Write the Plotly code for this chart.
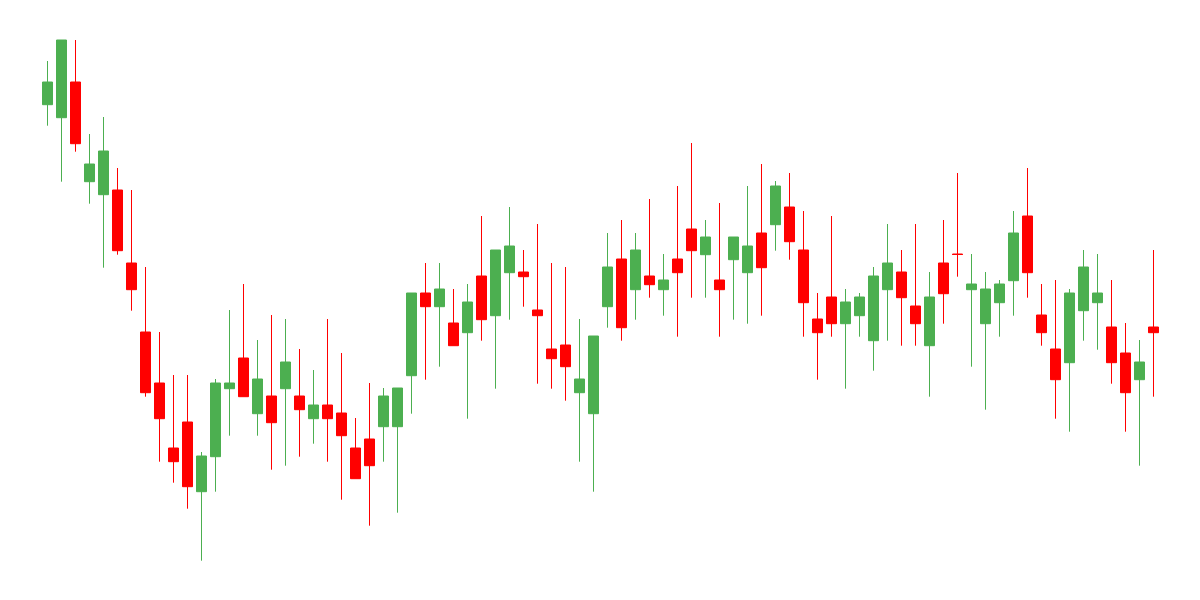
import plotly.graph_objects as go

open_ = [139.53, 138.23, 141.80, 131.83, 130.53, 131.00, 123.70, 116.80, 111.70, 105.20,
         107.80, 100.83, 104.33, 111.13, 114.20, 108.63, 110.40, 111.13, 110.40, 108.13,
         109.50, 108.70, 105.20, 106.10, 107.33, 107.33, 112.43, 120.70, 119.33, 117.70,
         116.73, 122.40, 118.43, 122.73, 122.80, 119.00, 115.10, 115.50, 110.73, 108.63,
         119.33, 124.10, 121.03, 122.40, 121.03, 124.10, 127.10, 124.53, 122.00, 124.03,
         122.73, 126.70, 127.53, 129.30, 125.00, 118.10, 120.30, 117.63, 118.43, 115.93,
         121.03, 122.80, 119.40, 115.43, 123.70, 124.60, 121.03, 117.63, 119.73, 121.93,
         128.40, 118.50, 115.10, 113.73, 118.93, 119.73, 117.30, 114.70, 112.03, 117.30]
high = [143.90, 146.00, 146.00, 136.60, 138.30, 133.20, 131.00, 123.30, 116.80, 112.50,
        112.50, 104.80, 112.10, 119.00, 121.60, 116.00, 118.50, 118.10, 115.10, 113.00,
        118.10, 114.70, 108.20, 111.70, 111.20, 111.20, 120.70, 123.70, 123.70, 121.10,
        121.60, 128.40, 125.00, 129.30, 125.00, 127.60, 123.70, 123.30, 118.10, 116.40,
        126.70, 128.00, 126.70, 130.10, 124.60, 131.40, 135.70, 128.00, 129.70, 126.30,
        131.40, 133.60, 131.90, 132.70, 128.90, 120.70, 128.40, 121.10, 120.70, 123.30,
        127.60, 125.00, 127.60, 122.80, 128.00, 132.70, 124.60, 122.80, 122.00, 128.90,
        133.20, 121.60, 122.00, 121.10, 125.00, 124.60, 122.00, 117.70, 116.00, 125.00]
low = [137.43, 131.83, 134.83, 129.63, 123.23, 124.53, 118.93, 110.33, 103.83, 101.73,
       99.13, 93.93, 100.83, 106.43, 110.33, 106.43, 103.03, 103.43, 104.33, 105.63,
       103.83, 100.03, 102.13, 97.43, 103.83, 98.73, 108.63, 112.03, 113.33, 115.43,
       108.13, 115.93, 111.13, 118.03, 119.33, 111.63, 111.13, 109.93, 103.83, 100.83,
       117.23, 115.93, 118.03, 120.23, 118.43, 116.33, 120.23, 120.23, 116.33, 118.03,
       117.63, 118.43, 124.93, 124.03, 116.33, 112.03, 116.33, 111.13, 116.33, 112.93,
       115.93, 115.43, 115.43, 110.33, 117.63, 122.33, 113.33, 109.03, 116.33, 118.43,
       120.23, 115.43, 108.13, 106.83, 115.93, 115.03, 111.63, 106.83, 103.43, 110.33]
close = [141.80, 146.00, 135.63, 133.60, 134.90, 124.93, 121.03, 110.73, 108.13, 103.83,
         101.33, 104.40, 111.70, 111.70, 110.33, 112.10, 107.73, 113.80, 109.03, 109.50,
         108.13, 106.43, 102.13, 103.43, 110.40, 111.20, 120.70, 119.33, 121.10, 115.43,
         119.80, 118.03, 125.00, 125.40, 122.33, 118.43, 114.13, 113.33, 112.10, 116.40,
         123.30, 117.23, 125.00, 121.53, 122.00, 122.73, 124.93, 126.30, 121.03, 126.30,
         125.40, 123.23, 131.40, 125.83, 119.73, 116.73, 117.63, 119.80, 120.30, 122.40,
         123.70, 120.23, 117.63, 120.30, 120.63, 124.55, 121.60, 121.10, 121.60, 126.70,
         122.73, 116.73, 112.03, 120.70, 123.30, 120.70, 113.73, 110.73, 113.80, 116.73]

x = list(range(len(open_)))

GREEN = "#4CAF50"
RED = "#FF0000"

fig = go.Figure(go.Candlestick(
    x=x, open=open_, high=high, low=low, close=close,
    increasing=dict(line=dict(color=GREEN, width=1), fillcolor=GREEN),
    decreasing=dict(line=dict(color=RED, width=1), fillcolor=RED),
    whiskerwidth=0,
    showlegend=False,
    hoverinfo="x+y",
))

# page body has an 8px margin, so the plot area begins at page (8, 8)
spacing_px = 14.0
first_px = 47.5 - 8
x0 = -first_px / spacing_px
x1 = x0 + 1200 / spacing_px

fig.update_layout(
    width=1200, height=600,
    margin=dict(l=0, r=0, t=0, b=0),
    paper_bgcolor="white", plot_bgcolor="white",
    boxgap=0.286, boxgroupgap=0,
    xaxis=dict(visible=False, range=[x0, x1], rangeslider=dict(visible=False)),
    yaxis=dict(visible=False, range=[89.2, 149.2]),
)

fig.write_html("out.html")
